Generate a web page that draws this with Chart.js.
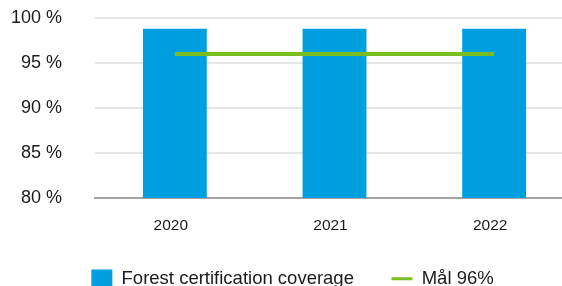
<!DOCTYPE html>
<html>
<head>
<meta charset="utf-8">
<script src="https://cdn.jsdelivr.net/npm/chart.js@4/dist/chart.umd.min.js"></script>
<style>
    html, body { margin: 0; padding: 0; overflow: hidden; background: #fff; }
    #wrap { width: 585px; height: 298px; }
</style>
</head>
<body>
<div id="wrap"><canvas id="coverageChart" width="585" height="298"></canvas></div>
<script>
const years = ['2020', '2021', '2022'];
const coverage = [98.8, 98.8, 98.8];
const target = [96, 96, 96];
const yTicks = [80, 85, 90, 95, 100];

const blue = '#009fdf';
const green = '#78be20';
const fontFamily = '"Liberation Sans", Arial, sans-serif';

const ctx = document.getElementById('coverageChart').getContext('2d');
new Chart(ctx, {
    type: 'bar',
    data: {
        labels: years,
        datasets: [{
            label: 'Forest certification coverage',
            data: coverage,
            backgroundColor: blue,
            borderWidth: 0,
            barPercentage: 0.4,
            categoryPercentage: 1,
            order: 1
        }, {
            type: 'line',
            label: 'Mål 96%',
            data: target,
            borderColor: green,
            backgroundColor: green,
            borderWidth: 4,
            pointRadius: 0,
            borderCapStyle: 'butt',
            order: 0
        }]
    },
    options: {
        responsive: false,
        animation: false,
        layout: {
            padding: { left: 11, top: 18, right: 11, bottom: 0 }
        },
        scales: {
            x: {
                // fit() doubles the tick padding, so pin the band height
                afterFit: (scale) => { scale.height = 34; },
                grid: { display: false, drawTicks: false },
                border: { display: true, color: '#a3a3a3', width: 2 },
                ticks: {
                    padding: 18.7,
                    labelOffset: -4,
                    color: '#1a1a1a',
                    font: { family: fontFamily, size: 15.5 }
                }
            },
            y: {
                min: yTicks[0],
                max: yTicks[yTicks.length - 1],
                afterFit: (scale) => {
                    scale.width = 84;
                    scale.paddingTop = 11;
                    scale.paddingBottom = 11;
                },
                grid: { color: '#e6e6e6', lineWidth: 2, drawTicks: false },
                border: { display: false },
                ticks: {
                    stepSize: 5,
                    padding: 33,
                    color: '#1a1a1a',
                    font: { family: fontFamily, size: 18 },
                    callback: (value) => yTicks.includes(value) ? value + ' %' : ''
                }
            }
        },
        plugins: {
            tooltip: { enabled: false },
            legend: {
                position: 'bottom',
                labels: {
                    usePointStyle: true,
                    pointStyleWidth: 21,
                    boxHeight: 19,
                    padding: 37.5,
                    color: '#1a1a1a',
                    font: { family: fontFamily, size: 18.5 },
                    generateLabels: (chart) => {
                        const items = Chart.defaults.plugins.legend.labels.generateLabels(chart);
                        items.forEach(item => {
                            if (item.datasetIndex === 0) {
                                item.pointStyle = 'rect';
                                item.lineWidth = 0;
                            } else {
                                item.pointStyle = 'line';
                                item.lineWidth = 3;
                            }
                        });
                        return items.sort((a, b) => a.datasetIndex - b.datasetIndex);
                    }
                }
            }
        }
    }
});
</script>
</body>
</html>
